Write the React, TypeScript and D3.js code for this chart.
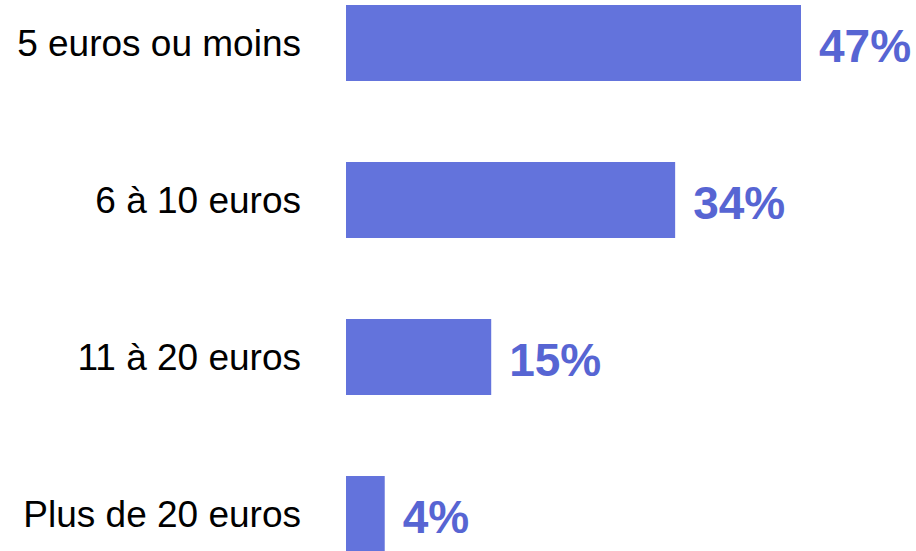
import React from "react";
import * as d3 from "d3";

const categories = ["5 euros ou moins", "6 à 10 euros", "11 à 20 euros", "Plus de 20 euros"];
const values = [47, 34, 15, 4];

const W = 916;
const H = 551;

export default function App() {
  const x = d3.scaleLinear().domain([0, 47]).range([346, 801]);
  const y = d3
    .scaleBand<string>()
    .domain(categories)
    .range([5, 552])
    .paddingInner(0.516)
    .paddingOuter(0);
  const bw = y.bandwidth();
  return (
    <svg
      width={W}
      height={H}
      style={{ position: "absolute", left: 0, top: 0, display: "block" }}
      fontFamily="Liberation Sans, Arial, sans-serif"
    >
      <rect width={W} height={H} fill="#ffffff" />
      {categories.map((c, i) => {
        const yy = y(c)!;
        const cy = yy + bw / 2;
        return (
          <g key={c}>
            <rect x={x(0)} y={yy} width={x(values[i]) - x(0)} height={bw} fill="#6373DC" />
            <text x={301} y={cy} dy="0.35em" textAnchor="end" fontSize={37} fill="#000">
              {c}
            </text>
            <text
              x={x(values[i]) + 18}
              y={cy}
              dy="0.42em"
              fontSize={46}
              fontWeight="bold"
              fill="#5765D3"
            >
              {values[i] + "%"}
            </text>
          </g>
        );
      })}
    </svg>
  );
}
